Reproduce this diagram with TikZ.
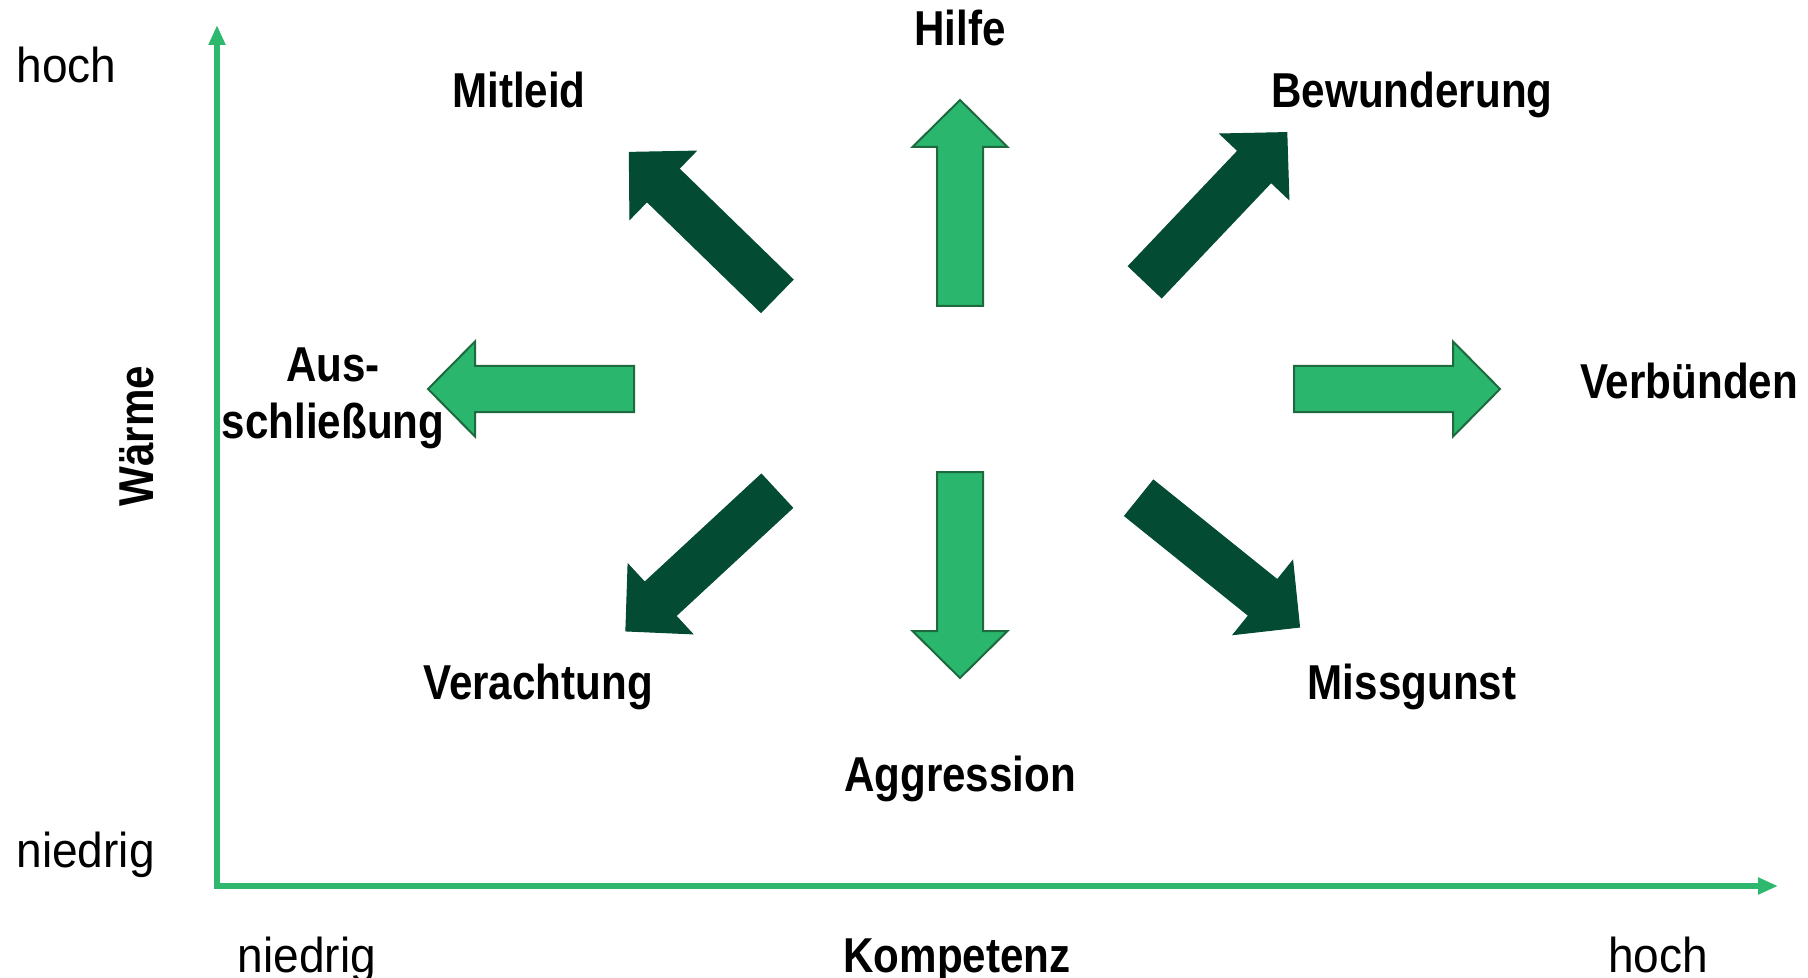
\documentclass[tikz,border=0pt]{standalone}
\usepackage{fontspec}
\setmainfont[FakeStretch=0.86]{Liberation Sans}
\newfontfamily\valfont[FakeStretch=0.94]{Liberation Sans}
\usetikzlibrary{arrows.meta}
\definecolor{axisgreen}{HTML}{2DB86E}
\definecolor{lightgreen}{HTML}{2BB66D}
\definecolor{rimgreen}{HTML}{1D6A3E}
\definecolor{darkgreen}{HTML}{034C33}

% block arrow: tail point, angle, style
\newcommand{\blockarrow}[3]{%
  \begin{scope}[shift={#1}, rotate=#2]
    \draw[#3] (0,-23) -- (159,-23) -- (159,-47.5) -- (206,0) -- (159,47.5) -- (159,23) -- (0,23) -- cycle;
  \end{scope}}

\begin{document}
\begin{tikzpicture}[x=0.5pt, y=-0.5pt,
  axis/.style={color=axisgreen, line width=2.8pt, -{Triangle[length=10pt,width=8pt]}},
  light/.style={fill=lightgreen, draw=rimgreen, line width=1pt},
  dark/.style={fill=darkgreen, draw=darkgreen, line width=0.5pt},
  val/.style={inner sep=0pt, font=\valfont\fontsize{24.5}{28.5}\selectfont},
  lbl/.style={inner sep=0pt, font=\fontsize{24.5}{28.5}\selectfont\bfseries}]
  \useasboundingbox (0,0) rectangle (1808,978);

  % axes
  \coordinate (origin) at (217,886);
  \coordinate (ytip) at (217,25);
  \coordinate (xtip) at (1778,886);
  \draw[axis] ([yshift=-1.4pt]origin) -- (ytip);
  \draw[axis] (origin) -- (xtip);

  % arrows
  \blockarrow{(960,306)}{90}{light}
  \blockarrow{(960,472)}{-90}{light}
  \blockarrow{(634,389)}{180}{light}
  \blockarrow{(1294,389)}{0}{light}
  \blockarrow{(777,296)}{135.8}{dark}
  \blockarrow{(1145,282)}{46.5}{dark}
  \blockarrow{(777,491)}{222.8}{dark}
  \blockarrow{(1139,498)}{-38.8}{dark}

  % axis labels
  \node[val, anchor=base west] (whoch) at (16,83) {hoch};
  \node[val, anchor=base west] (wniedrig) at (16,867) {niedrig};
  \node[lbl, rotate=90, anchor=base] (waerme) at (153,436) {Wärme};
  \node[val, anchor=base] (kniedrig) at (307,972) {niedrig};
  \node[lbl, anchor=base] (kompetenz) at (957,972) {Kompetenz};
  \node[val, anchor=base] (khoch) at (1658,972) {hoch};

  % reactions
  \node[lbl, anchor=base] (hilfe) at (960,46) {Hilfe};
  \node[lbl, anchor=base] (mitleid) at (519,108) {Mitleid};
  \node[lbl, anchor=base] (bewunderung) at (1412,108) {Bewunderung};
  \node[lbl, anchor=base, align=center] (ausschl) at (333,438) {Aus-\\schließung};
  \node[lbl, anchor=base] (verbuenden) at (1689,398) {Verbünden};
  \node[lbl, anchor=base] (verachtung) at (538,699) {Verachtung};
  \node[lbl, anchor=base] (missgunst) at (1412,699) {Missgunst};
  \node[lbl, anchor=base] (aggression) at (960,791) {Aggression};
\end{tikzpicture}
\end{document}
